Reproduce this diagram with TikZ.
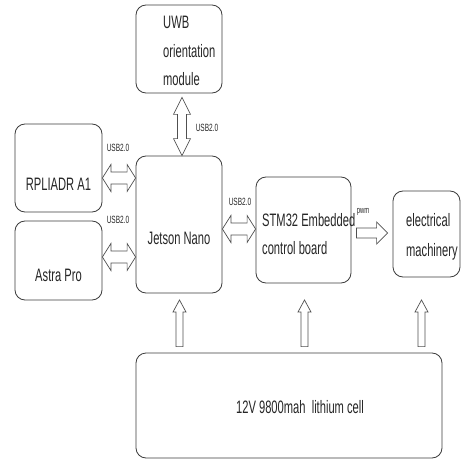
\documentclass[tikz,border=0pt]{standalone}
\usepackage{fontspec}
\setmainfont[FakeStretch=0.62]{Liberation Sans}
\usetikzlibrary{calc}
\definecolor{boxc}{HTML}{3C3C3C}
\definecolor{arrc}{HTML}{505050}
\definecolor{txtc}{HTML}{262626}
\tikzset{
  box/.style={draw=boxc, line width=0.8pt, rounded corners=10pt, inner sep=0pt},
  lbl/.style={text=txtc, font=\fontsize{18}{28.5}\selectfont, inner sep=0pt},
  small/.style={text=txtc, font=\fontsize{10.5}{12}\selectfont, inner sep=0pt},
  arrowline/.style={draw=arrc, line width=0.7pt, line join=miter, fill=white},
}
% horizontal hollow double arrow: #1 left tip, #2 right tip
\newcommand\hdbl[2]{\draw[arrowline] let \p1=#1, \p2=#2 in
  (\x1,\y1) -- (\x1+8.5pt,\y1+13.5pt) -- (\x1+8.5pt,\y1+6pt) -- (\x2-8.5pt,\y1+6pt)
  -- (\x2-8.5pt,\y1+13.5pt) -- (\x2,\y1) -- (\x2-8.5pt,\y1-13.5pt) -- (\x2-8.5pt,\y1-6pt)
  -- (\x1+8.5pt,\y1-6pt) -- (\x1+8.5pt,\y1-13.5pt) -- cycle;}
% vertical hollow double arrow: #1 top tip, #2 bottom tip
\newcommand\vdbl[2]{\draw[arrowline] let \p1=#1, \p2=#2 in
  (\x1,\y1) -- (\x1+8.5pt,\y1-17pt) -- (\x1+4.5pt,\y1-17pt) -- (\x1+4.5pt,\y2+17pt)
  -- (\x1+8.5pt,\y2+17pt) -- (\x1,\y2) -- (\x1-8.5pt,\y2+17pt) -- (\x1-4.5pt,\y2+17pt)
  -- (\x1-4.5pt,\y1-17pt) -- (\x1-8.5pt,\y1-17pt) -- cycle;}
% upward hollow arrow: #1 base, #2 tip
\newcommand\uarr[2]{\draw[arrowline] let \p1=#1, \p2=#2 in
  (\x1-3.5pt,\y1) -- (\x1-3.5pt,\y2-12pt) -- (\x1-6.5pt,\y2-12pt) -- (\x1,\y2)
  -- (\x1+6.5pt,\y2-12pt) -- (\x1+3.5pt,\y2-12pt) -- (\x1+3.5pt,\y1) -- cycle;}
% rightward hollow arrow: #1 tail, #2 tip
\newcommand\rarr[2]{\draw[arrowline] let \p1=#1, \p2=#2 in
  (\x1,\y1+5pt) -- (\x2-11pt,\y1+5pt) -- (\x2-11pt,\y1+11pt) -- (\x2,\y1)
  -- (\x2-11pt,\y1-11pt) -- (\x2-11pt,\y1-5pt) -- (\x1,\y1-5pt) -- cycle;}
\begin{document}
\begin{tikzpicture}[x=1pt,y=-1pt]
\useasboundingbox[fill=white] (0,0) rectangle (461,460);
% boxes
\node[box, minimum width=86pt, minimum height=88pt]  (uwb) at (179,49) {};
\node[box, minimum width=87pt, minimum height=88pt]  (rp)  at (58.5,168) {};
\node[box, minimum width=87pt, minimum height=79pt]  (ap)  at (58.5,260.5) {};
\node[box, minimum width=86pt, minimum height=137pt] (jn)  at (179,224.5) {};
\node[box, minimum width=95pt, minimum height=106pt] (stm) at (303.5,230) {};
\node[box, minimum width=67pt, minimum height=86pt]  (em)  at (426.5,234) {};
\node[box, minimum width=306pt, minimum height=105pt] (bat) at (289,405.5) {};
% texts
\node[lbl, align=left, anchor=west] (uwbt) at (163,51) {UWB\\orientation\\module};
\node[lbl] (rpt) at (58.5,184) {RPLIADR A1};
\node[lbl] (apt) at (58.5,275) {Astra Pro};
\node[lbl] (jnt) at (179,238) {Jetson Nano};
\node[lbl, align=left, anchor=west, font=\fontsize{18}{28}\selectfont] (stmt) at (262,234) {STM32 Embedded\\control board};
\node[lbl, align=left, anchor=west, font=\fontsize{18}{30}\selectfont] (emt) at (406,237) {electrical\\machinery};
\node[lbl] (batt) at (300,407) {12V 9800mah~ lithium cell};
% helper coordinates
\coordinate (yA) at (0,178);
\coordinate (yB) at (0,257);
\coordinate (yC) at (0,229);
\coordinate (yP) at (0,233);
\coordinate (yT) at (0,300);
\coordinate (xU) at (182,0);
\coordinate (xa) at (179.5,0);
\coordinate (xb) at (304.5,0);
\coordinate (xc) at (421.5,0);
% connectors
\hdbl{(rp.east |- yA)}{(jn.west |- yA)}
\hdbl{(ap.east |- yB)}{(jn.west |- yB)}
\hdbl{(jn.east |- yC)}{(stm.west |- yC)}
\vdbl{($(xU |- uwb.south)+(0,4)$)}{(xU |- jn.north)}
\rarr{($(stm.east |- yP)+(5,0)$)}{($(em.west |- yP)+(-5,0)$)}
\uarr{($(xa |- bat.north)+(0,-6)$)}{(xa |- yT)}
\uarr{($(xb |- bat.north)+(0,-6)$)}{(xb |- yT)}
\uarr{($(xc |- bat.north)+(0,-6)$)}{(xc |- yT)}
% connector labels
\node[small] (u1) at (118,148) {USB2.0};
\node[small] (u2) at (118,220) {USB2.0};
\node[small] (u3) at (207,128) {USB2.0};
\node[small] (u4) at (240,202) {USB2.0};
\node[small, font=\fontsize{9.5}{11}\selectfont] (pw) at (363,212) {pwm};
\end{tikzpicture}
\end{document}
